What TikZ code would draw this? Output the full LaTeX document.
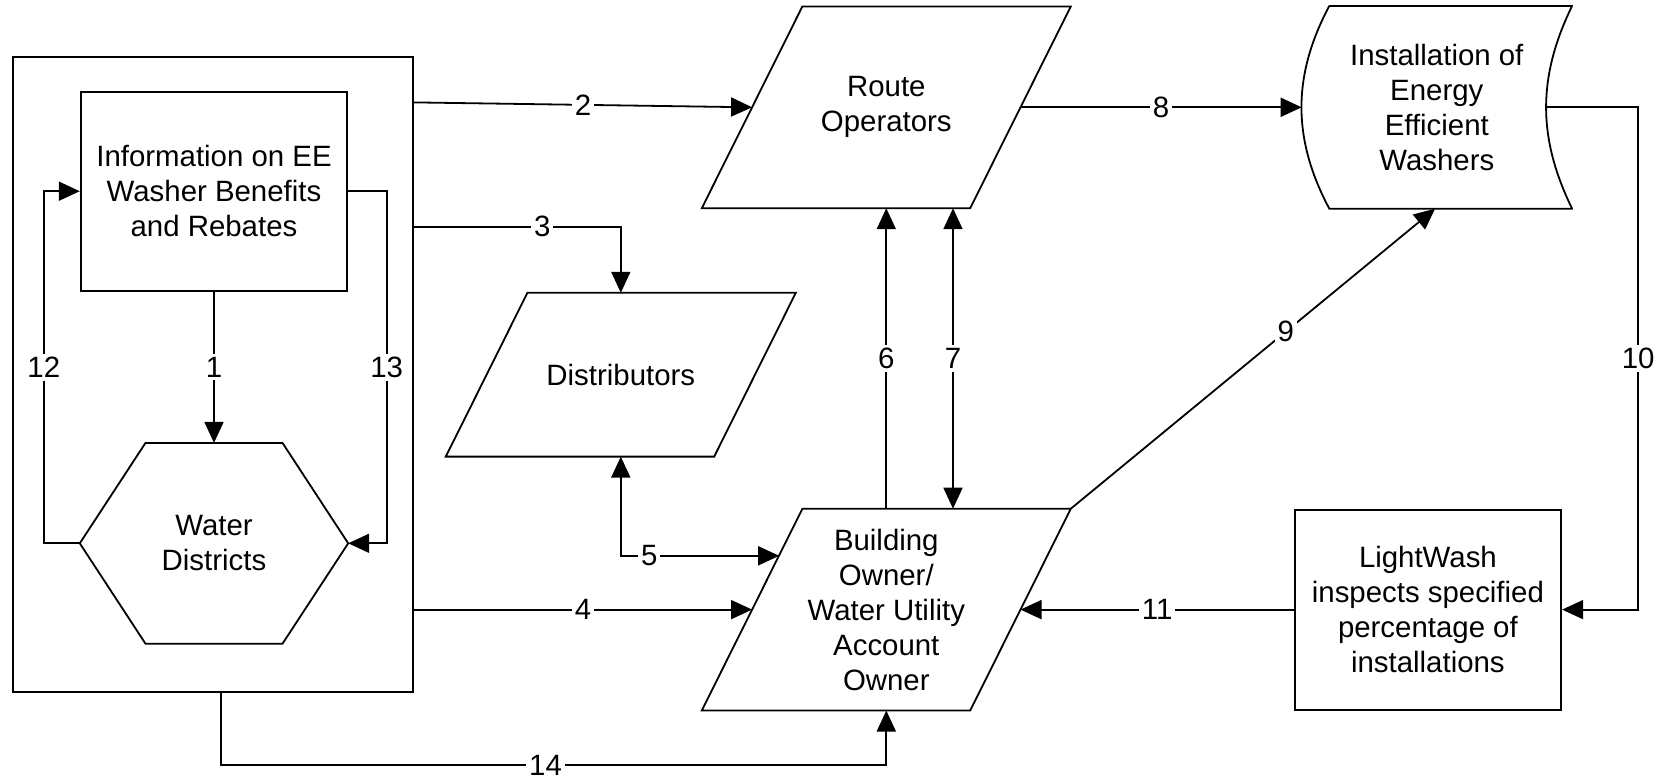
\documentclass[tikz,border=0pt]{standalone}
\usepackage{fontspec}
\setmainfont{Liberation Sans}
\usetikzlibrary{arrows.meta, positioning, calc}
\tikzset{
box/.style={
    rectangle,
    draw,
    minimum width=133.3pt,
    minimum height=100pt,
    inner sep=2pt,
    align=center,
    font=\fontsize{14.7}{17.5}\selectfont
},
shapebox/.style={box, draw=none},
num/.style={
    fill=white,
    inner sep=1.5pt,
    font=\fontsize{14.7}{17.5}\selectfont
}}

\begin{document}
\begin{tikzpicture}[
        >={Triangle[length=10.5pt, width=9.5pt]},
        x=0.5pt, y=-0.5pt,
        line width=0.9pt
    ]
    \useasboundingbox (0,0) rectangle (1661,778);

    % node placement
    \node[box, minimum width=200.3pt, minimum height=317.2pt] (outer) at (213,374.5) {};
    \node[box, minimum height=99.5pt] (info) at (214,191.2) {Information on EE\\Washer Benefits\\and Rebates};
    \node[shapebox, minimum height=99.5pt, below=75.65pt of info] (water) {Water\\Districts};

    \node[shapebox] (route) at (886.3,107.3) {Route\\Operators};
    \node[shapebox, below=150.25pt of route] (owner) {Building\\Owner/\\Water Utility\\Account\\Owner};
    \node[shapebox, minimum height=81pt] (dist) at (620.8,374.7) {Distributors};

    \node[shapebox, minimum width=106.6pt, minimum height=100.5pt, right=154.4pt of route] (inst) {Installation of\\Energy\\Efficient\\Washers};
    \node[box, right=136.6pt of owner] (lw) {LightWash\\inspects specified\\percentage of\\installations};

    % outlines
    \draw (water.west) -- ($(water.north west)+(65.7,0)$) -- ($(water.north east)+(-65.7,0)$) -- (water.east)
        -- ($(water.south east)+(-65.7,0)$) -- ($(water.south west)+(65.7,0)$) -- cycle;
    \draw ($(route.south west)+(-50.3,0)$) -- ($(route.north west)+(50.3,0)$) -- ($(route.north east)+(50.3,0)$) -- ($(route.south east)+(-50.3,0)$) -- cycle;
    \draw ($(owner.south west)+(-50.3,0)$) -- ($(owner.north west)+(50.3,0)$) -- ($(owner.north east)+(50.3,0)$) -- ($(owner.south east)+(-50.3,0)$) -- cycle;
    \draw ($(dist.south west)+(-40.8,0)$) -- ($(dist.north west)+(40.8,0)$) -- ($(dist.north east)+(40.8,0)$) -- ($(dist.south east)+(-40.8,0)$) -- cycle;
    \draw[line join=round] (inst.north west) -- ($(inst.north east)+(27.8,0)$) to[bend right=26] ($(inst.south east)+(27.8,0)$)
        -- (inst.south west) to[bend left=28] (inst.north west);

    % edges
    \draw[->] (info.south) -- node[num] {1} (water.north);
    \draw[->] ($(outer.north east)+(0,46)$) -- node[num] {2} (route.west);
    \draw[->] ($(outer.north east)+(0,170.4)$) -| node[num, pos=0.31] {3} (dist.north);
    \draw[->] (outer.east |- owner.west) -- node[num] {4} (owner.west);
    \draw[<->] (dist.south) |- node[num, pos=0.59] {5} ($(owner.west)+(27.1,-53.8)$);
    \draw[->] (owner.north) -- node[num] {6} (route.south);
    \draw[<->] ($(route.south)+(66.7,0)$) -- node[num] {7} ($(owner.north)+(66.7,0)$);
    \draw[->] (route.east) -- node[num] {8} ($(inst.west)+(-27.6,0)$);
    \draw[->] ($(owner.north east)+(50.3,0)$) -- node[num, pos=0.59] {9} ($(inst.south)+(-1.7,0)$);
    \draw[->] ($(inst.east)+(1.9,0)$) -- ($(inst.east)+(93.8,0)$) |- node[num, pos=0.25] {10} (lw.east);
    \draw[->] (lw.west) -- node[num] {11} (owner.east);
    \draw[->] (water.west) -- ++(-36,0) |- node[num, pos=0.25] {12} (info.west);
    \draw[->] (info.east) -- ++(38.4,0) |- node[num, pos=0.25] {13} (water.east);
    \draw[->] ($(outer.south)+(7.7,0)$) -- ++(0,72.3) -| node[num, pos=0.244] {14} (owner.south);

\end{tikzpicture}
\end{document}
